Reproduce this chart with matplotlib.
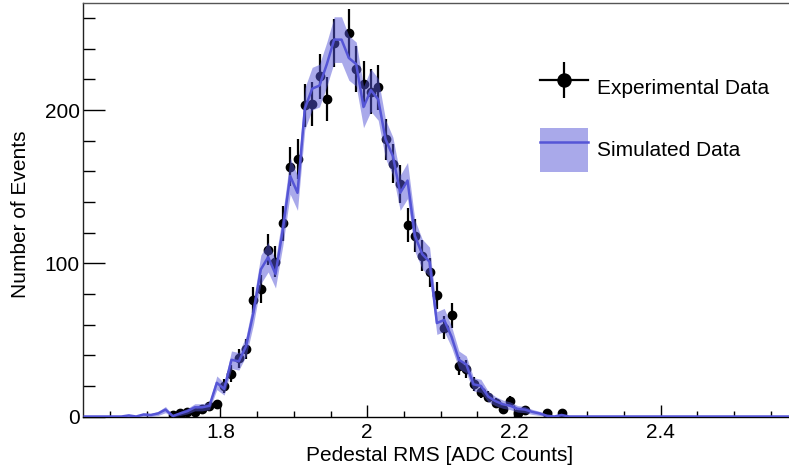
import numpy as np
import matplotlib
matplotlib.use("Agg")
import matplotlib.pyplot as plt
from matplotlib.lines import Line2D
from matplotlib.patches import Patch
from matplotlib.legend_handler import HandlerTuple
from matplotlib.ticker import MultipleLocator, FormatStrFormatter

plt.rcParams["font.family"] = ["Liberation Sans", "DejaVu Sans"]
plt.rcParams["font.size"] = 15

# experimental histogram (bin centres, counts)
exp_x = [1.735, 1.745, 1.755, 1.765, 1.775, 1.785, 1.795, 1.805, 1.815, 1.825,
         1.835, 1.845, 1.855, 1.865, 1.875, 1.885, 1.895, 1.905, 1.915, 1.925,
         1.935, 1.945, 1.955, 1.975, 1.985, 1.995, 2.005, 2.015, 2.025, 2.035,
         2.045, 2.055, 2.065, 2.075, 2.085, 2.095, 2.105, 2.115, 2.125, 2.135,
         2.145, 2.155, 2.165, 2.175, 2.185, 2.195, 2.205, 2.215, 2.245, 2.265]
exp_y = [1, 2, 3, 3, 5, 7, 8, 20, 28, 38,
         44, 76, 83, 109, 101, 126, 163, 168, 203, 204,
         222, 207, 244, 250, 227, 217, 212, 215, 181, 165,
         152, 125, 118, 105, 94, 79, 58, 66, 33, 31,
         21, 16, 13, 9, 5, 10, 2, 4, 2, 2]

# simulated histogram, bins of 0.01 starting at 1.615
sim_start = 1.615
sim_y = [0, 0, 0, 0, 0, 0, 0.7, 0, 1.3, 1,
         2, 4.5, 0.3, 2, 3.5, 6, 6, 7, 22, 18,
         37, 36, 46, 68, 96, 104, 93, 122, 157, 146,
         201, 214, 216, 230, 246, 246, 234, 230, 202, 213,
         207, 181, 170, 146, 154, 118, 106, 101, 61, 63,
         52, 37, 34, 21, 20, 13, 10, 8, 7, 5,
         4.5, 3, 2, 0.5, 0, 1, 0, 0, 0, 0,
         0, 0, 0, 0, 0, 0, 0, 0, 0, 0,
         0, 0, 0, 0, 0, 0, 0, 0, 0, 0,
         0, 0, 0, 0, 0, 0, 0, 0]
sim_band_scale = 0.95  # relative width of the MC uncertainty band

sim_color = "#5555d6"

exp_y = np.array(exp_y, dtype=float)
sim_y = np.array(sim_y, dtype=float)
sim_x = sim_start + 0.01 * np.arange(len(sim_y))
sim_err = sim_band_scale * np.sqrt(sim_y)

W, H = 789, 470
fig = plt.figure(figsize=(W / 100, H / 100), dpi=100)
ax = fig.add_axes([83.3 / W, 53.5 / H, (W - 83.3) / W, 413.2 / H])

ax.errorbar(exp_x, exp_y, yerr=np.sqrt(exp_y), fmt="o", color="black",
            ms=6, elinewidth=1.6, capsize=0, zorder=2)
ax.fill_between(sim_x, sim_y - sim_err, sim_y + sim_err, color=sim_color,
                alpha=0.5, lw=0, zorder=3)
ax.plot(sim_x, sim_y, color=sim_color, lw=1.8, zorder=4)

ax.set_xlim(1.613, 2.575)
ax.set_ylim(0, 269.7)

ax.xaxis.set_major_locator(MultipleLocator(0.2))
ax.xaxis.set_minor_locator(MultipleLocator(0.05))
ax.yaxis.set_major_locator(MultipleLocator(100))
ax.yaxis.set_minor_locator(MultipleLocator(20))
ax.xaxis.set_major_formatter(FormatStrFormatter("%g"))

ax.tick_params(axis="x", which="major", direction="in", length=8.6, width=1, pad=5)
ax.tick_params(axis="x", which="minor", direction="in", length=4.3, width=1)
ax.tick_params(axis="y", which="major", direction="in", length=15.8, width=1, pad=2.5)
ax.tick_params(axis="y", which="minor", direction="in", length=8.4, width=1)

ax.spines["right"].set_visible(False)
ax.spines["top"].set_color("#555555")
ax.spines["left"].set_color("#222222")
for s in ax.spines.values():
    s.set_linewidth(1)

ax.set_xlabel("Pedestal RMS [ADC Counts]")
ax.set_ylabel("Number of Events")
ax.xaxis.set_label_coords(0.5055, -0.072)
ax.yaxis.set_label_coords(-0.0755, 0.49)

exp_handle = (Line2D([], [], color="black", lw=1.6, marker="o", ms=9.4),
              Line2D([], [], color="black", marker="|", ms=26.5, mew=1.6, ls="none"))
sim_handle = (Patch(facecolor=sim_color, alpha=0.5, lw=0),
              Line2D([], [], color=sim_color, lw=1.8))
fig.legend([exp_handle, sim_handle], ["Experimental Data", "Simulated Data"],
           handler_map={tuple: HandlerTuple(ndivide=1, pad=0)},
           loc="upper left", bbox_to_anchor=(540 / W, 1 - 66 / H),
           frameon=False, borderpad=0, borderaxespad=0,
           handlelength=2.3, handleheight=2.87, handletextpad=0.43,
           labelspacing=0.86, fontsize=15)

fig.savefig("out.png", dpi=100)
